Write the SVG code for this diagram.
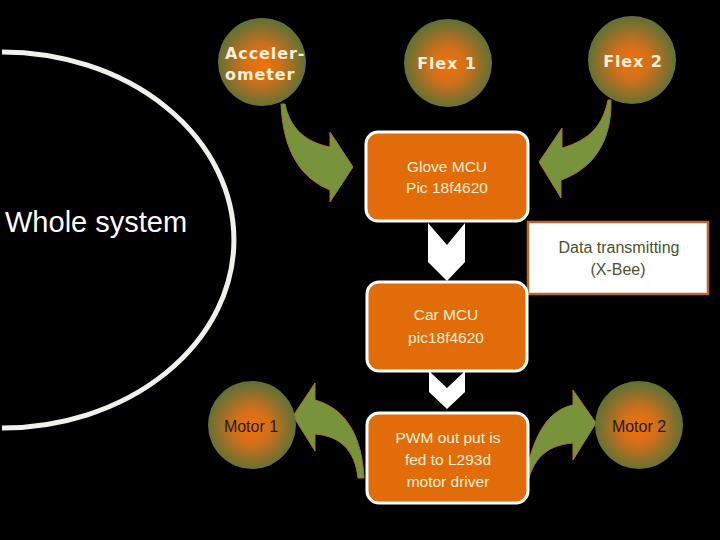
<svg xmlns="http://www.w3.org/2000/svg" width="720" height="540" viewBox="0 0 720 540">
<defs>
<radialGradient id="ball" cx="50%" cy="52%" r="50%">
<stop offset="0" stop-color="#F2700C"/>
<stop offset="0.4" stop-color="#D2701A"/>
<stop offset="1" stop-color="#617134"/>
</radialGradient>
</defs>
<style>
.ball{fill:url(#ball)}
.blbl{font-family:"DejaVu Sans",sans-serif;font-weight:bold;font-size:16px;fill:#F7F0D6;letter-spacing:0.9px}
.mlbl{font-family:"Liberation Sans",sans-serif;font-size:16px;fill:#2A1A0E;text-anchor:middle}
.box{fill:#E36C0A;stroke:#FFFFFF;stroke-width:3}
.btxt{font-family:"Liberation Sans",sans-serif;font-size:15.5px;fill:#FBEFD2;text-anchor:middle}
.dtxt{font-family:"Liberation Sans",sans-serif;font-size:16px;fill:#4A5230;text-anchor:middle}
.arrow{fill:#77933C;stroke:#B0702E;stroke-width:1}
.chev{fill:#FFFFFF}
</style>
<rect width="720" height="540" fill="#000000"/>
<g id="whole-system">
<path d="M 2 52 A 232 188 0 0 1 2 428" fill="none" stroke="#F2F0EA" stroke-width="5"/>
<text x="5" y="232" font-family="Liberation Sans,sans-serif" font-size="29" fill="#FFFFFF">Whole system</text>
</g>
<g id="connectors">
<polygon class="chev" points="428,223 447,245 465,223 465,262 447,281 428,262"/>
<polygon class="chev" points="429,371 447,388 465,371 465,392 447,409 429,392"/>
<path class="arrow" d="M 285 104 C 290 128 305 142 330 147 L 330 132 L 353 167 L 330 202 L 330 190 C 300 178 283 150 281 104 Z"/>
<path class="arrow" d="M 608 100 C 603 125 590 140 562 148 L 562 128 L 539 162 L 561 198 L 561 180 C 590 170 612 145 611 100 Z"/>
<path class="arrow" d="M 364 478 C 362 435 345 408 315 400 L 315 383 L 293 416 L 315 451 L 315 434 C 340 436 355 450 358 478 Z"/>
<path class="arrow" d="M 525 476 C 535 430 550 410 573 405 L 573 390 L 596 423 L 573 460 L 573 443 C 550 445 535 455 528 481 Z"/>
</g>
<g id="accelerometer">
<circle class="ball" cx="262" cy="62" r="44"/>
<text class="blbl" x="225" y="59">Acceler-</text>
<text class="blbl" x="225" y="80">ometer</text>
</g>
<g id="flex1">
<circle class="ball" cx="448" cy="63" r="44"/>
<text class="blbl" x="447" y="69" text-anchor="middle">Flex 1</text>
</g>
<g id="flex2">
<circle class="ball" cx="632" cy="60" r="44"/>
<text class="blbl" x="633" y="67" text-anchor="middle">Flex 2</text>
</g>
<g id="glove-mcu">
<rect class="box" x="366" y="132" width="162" height="89" rx="12"/>
<text class="btxt" x="447" y="172">Glove MCU</text>
<text class="btxt" x="447" y="193">Pic 18f4620</text>
</g>
<g id="data-transmitting">
<rect x="528" y="222" width="180" height="72" fill="#FFFFFF" stroke="#C0652A" stroke-width="2.5"/>
<text class="dtxt" x="619" y="253">Data transmitting</text>
<text class="dtxt" x="618" y="275">(X-Bee)</text>
</g>
<g id="car-mcu">
<rect class="box" x="367" y="282" width="160" height="89" rx="12"/>
<text class="btxt" x="446" y="320">Car MCU</text>
<text class="btxt" x="446" y="343">pic18f4620</text>
</g>
<g id="pwm">
<rect class="box" x="367" y="413" width="161" height="90" rx="12"/>
<text class="btxt" x="448" y="443">PWM out put is</text>
<text class="btxt" x="448" y="465">fed to L293d</text>
<text class="btxt" x="448" y="487">motor driver</text>
</g>
<g id="motor1">
<circle class="ball" cx="252" cy="425" r="44"/>
<text class="mlbl" x="251" y="432">Motor 1</text>
</g>
<g id="motor2">
<circle class="ball" cx="639" cy="425" r="44"/>
<text class="mlbl" x="639" y="432">Motor 2</text>
</g>
</svg>
